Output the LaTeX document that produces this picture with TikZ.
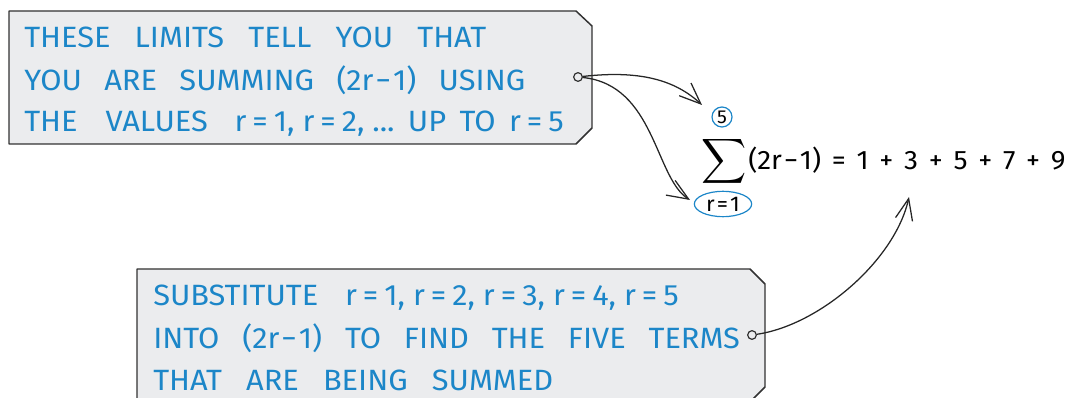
\documentclass[tikz,border=0pt]{standalone}
\usepackage{fontspec}
\setmainfont{Fira Sans}[FakeStretch=1.05]
\usetikzlibrary{arrows.meta,shapes.geometric}
\definecolor{txtblue}{RGB}{28,134,200}
\definecolor{boxfill}{RGB}{235,236,238}
\definecolor{boxline}{RGB}{50,50,50}
\newcommand\req[1]{r\kern4.5pt=\kern4.5pt#1}
\begin{document}
\begin{tikzpicture}[x=0.75pt,y=-0.75pt,
  tagbox/.style={draw=boxline,fill=boxfill,line width=1.1pt,line join=round},
  tagline/.style={anchor=base west,inner sep=0pt,text=txtblue,font=\fontsize{22pt}{24pt}\selectfont},
  pinmark/.style={circle,draw=boxline,fill=boxfill,line width=0.9pt,minimum size=6.5pt,inner sep=0pt},
  conn/.style={draw=black!85,line width=0.95pt,-{Straight Barb[length=16pt,width=13pt,line width=0.95pt]}},
  limit/.style={draw=txtblue,line width=0.9pt,inner sep=0pt},
  eqtext/.style={anchor=base west,inner sep=0pt,font=\fontsize{20pt}{22pt}\selectfont}
]
\useasboundingbox (0,0) rectangle (1069,398);

% top tag
\path[tagbox] (9,11) -- (576,11) -- (592,26) -- (592,128) -- (576,144) -- (9,144) -- cycle;
\node[tagline] (a1) at (24,48) {\makebox[346.5pt][s]{THESE LIMITS TELL YOU THAT}};
\node[tagline] (a2) at (24,91) {\makebox[375.75pt][s]{YOU ARE SUMMING (2r\kern1.5pt−\kern1.5pt1) USING}};
\node[tagline] (a3) at (24,132) {THE\hspace{21pt}VALUES\hspace{20pt}\req{1},\kern6pt\req{2},\kern6pt...\hspace{10pt}UP\hspace{10pt}TO\hspace{10pt}\req{5}};
\node[pinmark] (pinA) at (578,77) {};

% bottom tag
\path[tagbox] (137,269) -- (750,269) -- (765,284) -- (765,387) -- (750,402) -- (137,402) -- cycle;
\node[tagline] (b1) at (153,306) {SUBSTITUTE\hspace{20pt}\req{1},\kern6pt\req{2},\kern6pt\req{3},\kern6pt\req{4},\kern6pt\req{5}};
\node[tagline] (b2) at (153,349) {\makebox[440pt][s]{INTO (2r\kern1.5pt−\kern1.5pt1) TO FIND THE FIVE TERMS}};
\node[tagline] (b3) at (153,390) {\makebox[300pt][s]{THAT ARE BEING SUMMED}};
\node[pinmark] (pinB) at (752,335) {};

% equation
\node[inner sep=0pt,scale=2.35] (sig) at (724.5,161) {$\displaystyle\sum$};
\node[limit,circle,minimum size=15pt,font=\fontsize{14pt}{14pt}\selectfont] (up) at (722,117) {5};
\node[limit,ellipse,minimum width=43pt,minimum height=19pt,font=\fontsize{16pt}{16pt}\selectfont] (low) at (723,204) {r\kern1.5pt=\kern1.5pt1};
\node[eqtext] (eq) at (748,170) {\makebox[238pt][s]{(2r\kern1.5pt−\kern1.5pt1) = 1 + 3 + 5 + 7 + 9}};

% arrow ends
\coordinate (t1) at (702,105);
\coordinate (t2) at (690,200);
\coordinate (t3) at (909,197);

\draw[conn] (pinA) .. controls (640,70) and (675,80) .. (t1);
\draw[conn] (pinA) .. controls (655,85) and (655,178) .. (t2);
\draw[conn] (pinB) .. controls (820,325) and (895,260) .. (t3);
\end{tikzpicture}
\end{document}
